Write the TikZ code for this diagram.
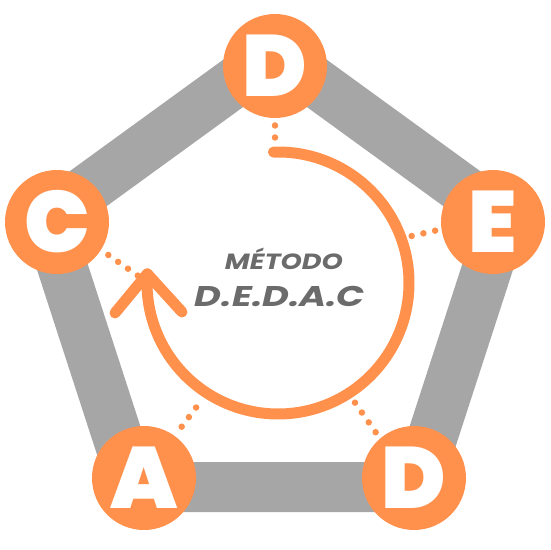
\documentclass[tikz,border=0pt]{standalone}
\usepackage{fontspec}
\usepackage{graphicx}
\newfontfamily\poppins{Poppins}
\IfFontExistsTF{Poppins Black}{\newfontfamily\lettblack{Poppins Black}\newcommand\lettfont{\lettblack}}{\newcommand\lettfont{\poppins\bfseries}}
\definecolor{orng}{HTML}{FF914D}
\definecolor{bandgray}{HTML}{A6A6A6}
\definecolor{txtgray}{HTML}{6B6B6B}
\begin{document}
\begin{tikzpicture}[x=1pt,y=1pt,
  band/.style={line width=50pt, draw=bandgray, line join=round},
  letter/.style={circle, fill=orng, minimum size=104pt, inner sep=0pt, text=white, font=\lettfont\fontsize{87}{87}\selectfont},
  dotline/.style={draw=orng, line width=6.5pt, line cap=round, dash pattern=on 0pt off 12pt, shorten >=-1pt},
  cyc/.style={draw=orng, line width=11pt, line cap=round, line join=round},
  title/.style={text=txtgray, anchor=base, inner sep=0pt}]
\useasboundingbox (0,0) rectangle (550,550);
% pentagon band
\coordinate (p1) at (275,497);
\coordinate (p2) at (503.3,331.2);
\coordinate (p3) at (416.1,62.8);
\coordinate (p4) at (133.9,62.8);
\coordinate (p5) at (46.7,331.2);
\draw[band] (p1) -- (p2) -- (p3) -- (p4) -- (p5) -- cycle;
% letter circles
\node[letter] (dtop) at (275,484) {D};
\node[letter] (e) at (493,328) {E};
\node[letter] (dbot) at (414,72) {D};
\node[letter] (a) at (144,72) {A};
\node[letter] (c) at (57,328) {C};
% cycle arrow
\coordinate (arcc) at (278,267);
\coordinate (tip) at ([shift={(-184:131)}]arcc);
\coordinate (armL) at (115,237);
\coordinate (armR) at (182,238);
\draw[cyc] ([shift={(92:131)}]arcc) arc[start angle=92, end angle=-184, radius=131];
\draw[cyc] (armL) -- (tip) -- (armR);
% dotted links
\coordinate (t1) at (275,424.5); \coordinate (t2) at (275,412.5);
\coordinate (c1) at (108.3,295); \coordinate (c2) at (137.8,274.4);
\coordinate (e1) at (411.7,314); \coordinate (e2) at (435,319.3);
\coordinate (a1) at (181.7,123.3); \coordinate (a2) at (196,142.3);
\coordinate (d1) at (355,147.3); \coordinate (d2) at (375.7,117.7);
\draw[dotline] (t1) -- (t2);
\draw[dotline] (c1) -- (c2);
\draw[dotline] (e1) -- (e2);
\draw[dotline] (a1) -- (a2);
\draw[dotline] (d1) -- (d2);
% title
\node[title, font=\poppins\bfseries\itshape\fontsize{22}{22}\selectfont] (metodo) at (284,280) {\resizebox{118pt}{\height}{MÉTODO}};
\node[title, font=\poppins\bfseries\itshape\fontsize{28.5}{28.5}\selectfont] (dedac) at (280,243) {\resizebox{170pt}{\height}{D.E.D.A.C}};
\end{tikzpicture}
\end{document}
